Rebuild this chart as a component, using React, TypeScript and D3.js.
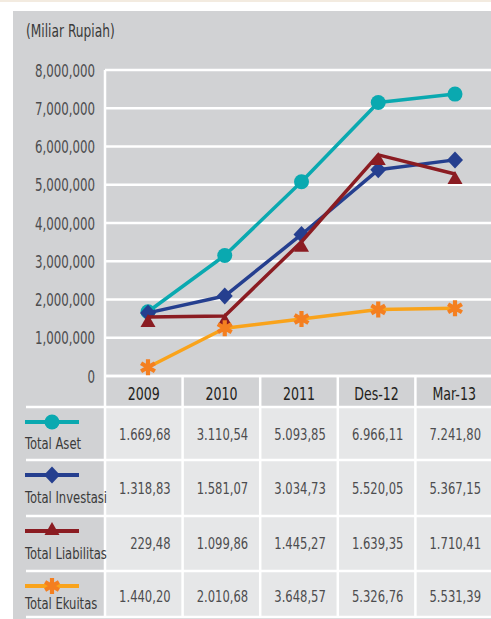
import React from 'react';
import * as d3 from 'd3';

const categories = ['2009', '2010', '2011', 'Des-12', 'Mar-13'];
const yTicks = [0, 1000000, 2000000, 3000000, 4000000, 5000000, 6000000, 7000000, 8000000];

// plotted values
const totalAset = [1680000, 3150000, 5080000, 7150000, 7370000];
const totalInvestasi = [1650000, 2090000, 3700000, 5390000, 5650000];
const totalLiabilitas = [1540000, 1570000, 3510000, 5780000, 5280000];
const totalEkuitas = [230000, 1250000, 1490000, 1740000, 1770000];

// table texts
const tableAset = ['1.669,68', '3.110,54', '5.093,85', '6.966,11', '7.241,80'];
const tableInvestasi = ['1.318,83', '1.581,07', '3.034,73', '5.520,05', '5.367,15'];
const tableLiabilitas = ['229,48', '1.099,86', '1.445,27', '1.639,35', '1.710,41'];
const tableEkuitas = ['1.440,20', '2.010,68', '3.648,57', '5.326,76', '5.531,39'];

const seriesNames = ['Total Aset', 'Total Investasi', 'Total Liabilitas', 'Total Ekuitas'];

const FONT = "'DejaVu Sans Condensed', 'DejaVu Sans', sans-serif";
const PANEL = '#d1d2d4';
const CELL = '#e6e7e8';

type Kind = 'circle' | 'diamond' | 'triangle' | 'asterisk';

const series = [
  { name: seriesNames[0], values: totalAset, table: tableAset, line: '#0aa9b0', marker: '#0aa9b0', kind: 'circle' as Kind },
  { name: seriesNames[1], values: totalInvestasi, table: tableInvestasi, line: '#253f8f', marker: '#253f8f', kind: 'diamond' as Kind },
  { name: seriesNames[2], values: totalLiabilitas, table: tableLiabilitas, line: '#8b1c22', marker: '#8b1c22', kind: 'triangle' as Kind },
  { name: seriesNames[3], values: totalEkuitas, table: tableEkuitas, line: '#f9a31b', marker: '#f47f20', kind: 'asterisk' as Kind },
];

function Txt({
  x, y, sx, size, fill, anchor = 'start', children,
}: {
  x: number; y: number; sx: number; size: number; fill: string; anchor?: string; children: React.ReactNode;
}) {
  return (
    <text
      transform={`translate(${x},${y}) scale(${sx},1)`}
      fontSize={size}
      fill={fill}
      textAnchor={anchor}
      fontFamily={FONT}
    >
      {children}
    </text>
  );
}

function Marker({ kind, x, y, color }: { kind: Kind; x: number; y: number; color: string }) {
  if (kind === 'circle') return <circle cx={x} cy={y} r={7.5} fill={color} />;
  if (kind === 'diamond')
    return <path d={`M${x},${y - 8.5}L${x + 8},${y}L${x},${y + 8.5}L${x - 8},${y}Z`} fill={color} />;
  if (kind === 'triangle')
    return <path d={`M${x},${y - 5}L${x + 7.5},${y + 8}L${x - 7.5},${y + 8}Z`} fill={color} />;
  const sym = d3.symbol().type(d3.symbolAsterisk).size(180)();
  return (
    <path d={sym || ''} transform={`translate(${x},${y})`} fill="none" stroke={color} strokeWidth={4.2} />
  );
}

export default function App() {
  const W = 491;
  const H = 619;
  const y = d3.scaleLinear().domain([0, 8000000]).range([376, 70]);
  const xPts = d3.scalePoint<string>().domain(categories).range([148, 455]);
  const xBand = d3.scaleBand<string>().domain(categories).range([105, 493]).padding(0);
  const fmt = d3.format(',');
  const line = d3
    .line<number>()
    .x((_, i) => xPts(categories[i]) as number)
    .y((v) => y(v));

  const rowTops = [407, 460, 516, 571];
  const rowBottom = 617;

  return (
    <svg width={W} height={H} style={{ position: 'absolute', left: 0, top: 0 }}>
      <rect x={0} y={0} width={W} height={H} fill="#ffffff" />
      <rect x={0} y={0} width={W} height={2} fill="#f3ebe0" />
      <rect x={13} y={11} width={W} height={H} fill={PANEL} />

      <Txt x={26} y={36.5} sx={0.8} size={17} fill="#3a3a3a">
        (Miliar Rupiah)
      </Txt>

      {/* gridlines */}
      {yTicks.map((t) => (
        <g key={t}>
          <line x1={105} x2={W} y1={y(t)} y2={y(t)} stroke="#ffffff" strokeWidth={2.5} />
          <Txt x={95} y={y(t) + 6.5} sx={0.75} size={17.5} fill="#4d4d4f" anchor="end">
            {fmt(t)}
          </Txt>
        </g>
      ))}

      {/* table cells */}
      {series.map((s, r) => {
        const top = rowTops[r];
        const bottom = r < 3 ? rowTops[r + 1] : rowBottom;
        return (
          <g key={s.name}>
            {categories.map((c) => (
              <rect
                key={c}
                x={xBand(c) as number}
                y={top}
                width={xBand.bandwidth()}
                height={bottom - top}
                fill={CELL}
              />
            ))}
          </g>
        );
      })}

      {/* table borders */}
      {[...rowTops, rowBottom].map((t) => (
        <line key={t} x1={26} x2={W} y1={t} y2={t} stroke="#ffffff" strokeWidth={2.5} />
      ))}
      <line x1={105} x2={W} y1={376} y2={376} stroke="#ffffff" strokeWidth={2.5} />
      <line x1={105} x2={105} y1={70} y2={rowBottom} stroke="#ffffff" strokeWidth={2.5} />
      {categories.slice(1).map((c) => (
        <line
          key={c}
          x1={xBand(c) as number}
          x2={xBand(c) as number}
          y1={376}
          y2={rowBottom}
          stroke="#ffffff"
          strokeWidth={2.5}
        />
      ))}

      {/* header */}
      {categories.map((c) => (
        <Txt
          key={c}
          x={(xBand(c) as number) + xBand.bandwidth() / 2}
          y={399.5}
          sx={0.8}
          size={17.5}
          fill="#231f20"
          anchor="middle"
        >
          {c}
        </Txt>
      ))}

      {/* rows */}
      {series.map((s, r) => {
        const top = rowTops[r];
        const lineY = top + 15;
        const labelY = [448.5, 503, 558.5, 608.5][r];
        const valY = [440, 494, 549, 602][r];
        return (
          <g key={s.name}>
            <line x1={25} x2={79} y1={lineY} y2={lineY} stroke={s.line} strokeWidth={4} />
            <Marker kind={s.kind} x={52} y={s.kind === 'triangle' ? lineY - 4 : lineY} color={s.marker} />
            <Txt x={25} y={labelY} sx={0.78} size={16.5} fill="#3a3a3a">
              {s.name}
            </Txt>
            {s.table.map((v, i) => (
              <Txt
                key={i}
                x={(xBand(categories[i]) as number) + xBand.bandwidth() - 12}
                y={valY}
                sx={0.78}
                size={16.5}
                fill="#4d4d4f"
                anchor="end"
              >
                {v}
              </Txt>
            ))}
          </g>
        );
      })}

      {/* lines */}
      {series.map((s) => (
        <g key={s.name}>
          <path d={line(s.values) || ''} fill="none" stroke={s.line} strokeWidth={3.5} strokeLinejoin="round" />
          {s.values.map((v, i) => (
            <Marker
              key={i}
              kind={s.kind}
              x={xPts(categories[i]) as number}
              y={y(v) + (s.kind === 'triangle' ? 2 : 0)}
              color={s.marker}
            />
          ))}
        </g>
      ))}
    </svg>
  );
}
